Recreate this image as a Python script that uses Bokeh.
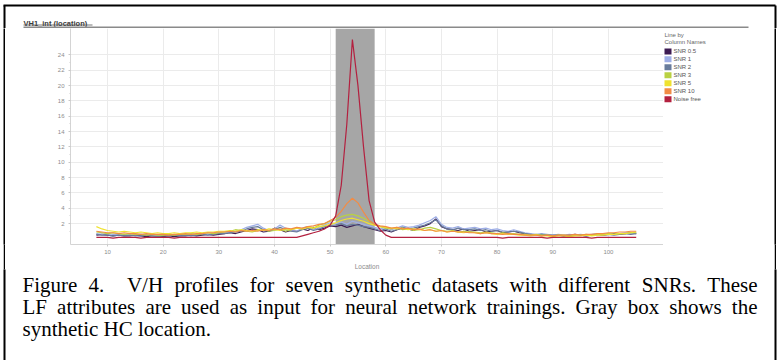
from bokeh.plotting import figure
from bokeh.layouts import column, row
from bokeh.models import Range1d, FixedTicker, BoxAnnotation
from bokeh.core.properties import value
from bokeh.embed import file_html
from bokeh.resources import INLINE

# ---------------- data ----------------
location = list(range(8, 106))

series_names = ["SNR 0.5", "SNR 1", "SNR 2", "SNR 3", "SNR 5", "SNR 10", "Noise free"]
series_colors = ["#3d1b52", "#9eaee6", "#687c9c", "#b9d143", "#efe22f", "#f28c45", "#b3203f"]

snr_05 = [0.5, 0.6, 0.5, 0.4, 0.5, 0.4, 0.4, 0.5, 0.4, 0.3, 0.4, 0.4, 0.3, 0.4, 0.3, 0.4, 0.4, 0.5, 0.4, 0.5, 0.6, 0.5, 0.6,
          0.7, 0.8, 0.7, 0.9, 1.1, 1.3, 1.2, 0.9, 1.0, 1.4, 1.2, 0.9, 1.1, 1.0, 1.3, 1.1, 1.5, 1.2, 1.4, 1.7,
          1.6, 1.8, 1.5, 1.7, 1.9, 1.6, 1.4, 1.2,
          1.0, 1.1, 0.9, 1.2, 1.4, 1.3, 1.1, 1.5, 1.7, 2.0, 2.6, 1.6, 1.3, 1.2, 1.1, 1.3, 1.0,
          1.1, 1.2, 0.9, 1.0, 1.1, 0.8, 0.9, 1.0, 0.8, 0.7, 0.6, 0.5, 0.6, 0.5, 0.4, 0.5, 0.4, 0.5, 0.6, 0.5,
          0.4, 0.5, 0.6, 0.5, 0.6, 0.7, 0.6, 0.7, 0.8, 0.7]
snr_1 = [0.7, 0.6, 0.7, 0.6, 0.5, 0.6, 0.5, 0.5, 0.6, 0.5, 0.4, 0.5, 0.5, 0.4, 0.5, 0.5, 0.6, 0.5, 0.6, 0.7, 0.6, 0.7, 0.8,
         0.8, 0.9, 1.0, 1.2, 1.5, 1.7, 1.9, 1.4, 1.1, 1.3, 1.8, 1.4, 1.1, 1.0, 1.4, 1.6, 1.2, 1.5, 1.8, 2.1,
         2.0, 2.2, 1.9, 2.3, 2.1, 1.9, 1.7, 1.5,
         1.3, 1.5, 1.2, 1.4, 1.7, 1.5, 1.6, 1.8, 2.1, 2.4, 2.9, 1.9, 1.5, 1.4, 1.6, 1.3, 1.4,
         1.5, 1.3, 1.4, 1.2, 1.3, 1.1, 1.0, 1.2, 1.0, 0.8, 0.7, 0.6, 0.7, 0.6, 0.5, 0.6, 0.5, 0.6, 0.5, 0.6,
         0.5, 0.6, 0.7, 0.6, 0.7, 0.6, 0.7, 0.8, 0.7, 0.8]
snr_2 = [0.6, 0.5, 0.5, 0.4, 0.5, 0.4, 0.5, 0.4, 0.4, 0.5, 0.4, 0.3, 0.4, 0.4, 0.5, 0.4, 0.5, 0.4, 0.5, 0.6, 0.5, 0.6, 0.7,
         0.7, 0.8, 0.9, 1.0, 1.3, 1.5, 1.6, 1.2, 1.0, 1.2, 1.5, 1.2, 1.0, 0.9, 1.2, 1.4, 1.1, 1.3, 1.6, 1.8,
         1.8, 2.0, 1.7, 1.9, 1.8, 1.6, 1.5, 1.3,
         1.1, 1.3, 1.0, 1.2, 1.5, 1.3, 1.4, 1.6, 1.8, 2.1, 2.5, 1.7, 1.3, 1.2, 1.4, 1.2, 1.2,
         1.3, 1.1, 1.2, 1.0, 1.1, 0.9, 0.9, 1.0, 0.9, 0.7, 0.6, 0.5, 0.6, 0.5, 0.5, 0.5, 0.4, 0.5, 0.5, 0.5,
         0.4, 0.5, 0.6, 0.5, 0.6, 0.5, 0.6, 0.7, 0.6, 0.7]
snr_3 = [0.9, 0.8, 0.7, 0.8, 0.7, 0.6, 0.7, 0.6, 0.6, 0.5, 0.6, 0.5, 0.5, 0.6, 0.5, 0.6, 0.6, 0.7, 0.6, 0.7, 0.8, 0.7, 0.8,
         0.9, 1.0, 1.2, 1.1, 1.0, 0.9, 1.1, 1.2, 1.0, 1.1, 1.3, 1.0, 1.2, 1.4, 1.3, 1.6, 1.4, 1.8, 2.0, 2.3,
         2.5, 2.9, 3.1, 3.2, 3.0, 2.7, 2.3, 1.9,
         1.6, 1.4, 1.3, 1.5, 1.2, 1.3, 1.1, 1.2, 1.4, 1.5, 1.3, 1.1, 1.0, 1.1, 0.9, 1.0, 0.9,
         0.9, 0.8, 0.9, 0.8, 0.7, 0.8, 0.7, 0.7, 0.6, 0.6, 0.5, 0.6, 0.5, 0.5, 0.4, 0.5, 0.5, 0.4, 0.5, 0.5,
         0.6, 0.5, 0.6, 0.6, 0.7, 0.6, 0.7, 0.7, 0.8, 0.8]
snr_5 = [1.6, 1.3, 1.1, 1.0, 0.9, 1.0, 0.9, 0.8, 0.9, 0.8, 0.7, 0.8, 0.7, 0.7, 0.8, 0.7, 0.8, 0.8, 0.9, 0.8, 0.9, 0.9, 1.0,
         1.0, 1.1, 1.0, 1.2, 1.1, 1.0, 1.2, 1.1, 1.3, 1.2, 1.1, 1.3, 1.2, 1.4, 1.3, 1.5, 1.4, 1.6, 1.7, 1.9,
         2.1, 2.4, 2.6, 2.7, 2.5, 2.3, 2.0, 1.8,
         1.6, 1.5, 1.4, 1.3, 1.4, 1.2, 1.3, 1.2, 1.1, 1.2, 1.0, 1.1, 0.9, 1.0, 0.9, 0.8, 0.9,
         0.8, 0.7, 0.8, 0.7, 0.6, 0.7, 0.6, 0.6, 0.5, 0.5, 0.4, 0.5, 0.4, 0.4, 0.3, 0.4, 0.4, 0.3, 0.4, 0.4,
         0.5, 0.4, 0.5, 0.5, 0.6, 0.6, 0.7, 0.7, 0.8, 0.9]
snr_10 = [1.0, 0.9, 0.8, 0.8, 0.7, 0.8, 0.7, 0.7, 0.6, 0.7, 0.6, 0.6, 0.6, 0.5, 0.6, 0.6, 0.7, 0.6, 0.7, 0.7, 0.8, 0.8, 0.9,
          0.9, 1.0, 0.9, 1.1, 1.0, 1.1, 1.0, 1.2, 1.1, 1.3, 1.2, 1.4, 1.3, 1.5, 1.4, 1.6, 1.7, 1.9, 2.0, 2.4,
          2.8, 3.6, 4.6, 5.3, 4.7, 3.5, 2.4, 1.9,
          1.7, 1.6, 1.4, 1.5, 1.3, 1.4, 1.2, 1.3, 1.1, 1.2, 1.0, 1.1, 0.9, 1.0, 0.9, 0.9, 0.8,
          0.8, 0.7, 0.8, 0.7, 0.7, 0.6, 0.7, 0.6, 0.6, 0.5, 0.5, 0.5, 0.4, 0.5, 0.4, 0.5, 0.5, 0.5, 0.6, 0.5,
          0.6, 0.6, 0.7, 0.7, 0.8, 0.8, 0.9, 0.9, 1.0, 1.0]
noise_free = [0.2, 0.2, 0.2, 0.1, 0.2, 0.2, 0.2, 0.2, 0.1, 0.2, 0.2, 0.2, 0.2, 0.2, 0.1, 0.2, 0.2, 0.2, 0.2, 0.2, 0.2, 0.2, 0.2,
              0.2, 0.2, 0.2, 0.2, 0.2, 0.2, 0.2, 0.2, 0.2, 0.2, 0.2, 0.2, 0.2, 0.2, 0.4, 0.6, 0.8, 1.0, 1.3, 1.8,
              3.0, 7.0, 15.0, 26.0, 20.0, 12.0, 5.0, 2.2,
              1.2, 0.5, 0.2, 0.2, 0.2, 0.2, 0.2, 0.2, 0.2, 0.2, 0.2, 0.2, 0.2, 0.2, 0.2, 0.2, 0.2,
              0.2, 0.2, 0.2, 0.2, 0.2, 0.1, 0.2, 0.2, 0.2, 0.2, 0.2, 0.2, 0.2, 0.1, 0.2, 0.2, 0.2, 0.2, 0.2, 0.2,
              0.2, 0.1, 0.2, 0.2, 0.2, 0.2, 0.2, 0.2, 0.2, 0.2]
all_series = [snr_05, snr_1, snr_2, snr_3, snr_5, snr_10, noise_free]

hc_box = (51, 58)
x_ticks = [10, 20, 30, 40, 50, 60, 70, 80, 90, 100]
y_ticks = [2, 4, 6, 8, 10, 12, 14, 16, 18, 20, 22, 24]

chart_title = "VH1_int (location)"
x_label = "Location"
legend_title = ["Line by", "Column Names"]
caption_lines = [
    "Figure 4.  V/H profiles for seven synthetic datasets with different SNRs. These",
    "LF attributes are used as input for neural network trainings. Gray box shows the",
    "synthetic HC location.",
]

# ---------------- geometry ----------------
W, H = 777, 360
HEAD_H = 28            # header strip (title)
MID_H = 244            # chart row
FRAME_H = 217          # plot-area height inside the chart row
OVERLAP = 3            # caption slides up over the row's bottom edge
CAP_H = H - HEAD_H - MID_H + OVERLAP
BORDER_W = 2
LPAD_W = 3             # white margin left of the outer frame
RPAD_W = 1             # white margin right of the outer frame
LEG_W = 111
CHART_W = W - LPAD_W - BORDER_W - LEG_W - BORDER_W - RPAD_W
BX_L, BX_R = 3, 775    # outer black frame x positions
x0, x1 = 3.35, 109.9
y0, y1 = -0.73, 27.45


def canvas(w, h):
    c = figure(width=w, height=h, x_range=Range1d(0, w), y_range=Range1d(h, 0),
               x_axis_type=None, y_axis_type=None, min_border=0,
               toolbar_location=None, output_backend="svg")
    c.outline_line_color = None
    c.grid.visible = False
    c.background_fill_color = "white"
    c.border_fill_color = "white"
    return c


def solid(w, h, color):
    c = canvas(w, h)
    c.background_fill_color = color
    c.border_fill_color = color
    return c


# ---------------- header ----------------
head = canvas(W, HEAD_H)
head.segment(x0=[BX_L, BX_L + 1, BX_R], y0=[5, 5, 5], x1=[BX_R, BX_L + 1, BX_R], y1=[5, HEAD_H, HEAD_H],
             line_color="black", line_width=2)
head.text(x=[23], y=[23], text=[chart_title], text_font=value("Liberation Sans"),
          text_font_size=value("7.5px"), text_font_style="bold", text_color="#3a3a3a",
          text_baseline="alphabetic")
head.segment(x0=[23], y0=[24.5], x1=[92], y1=[24.5], line_color="#555555", line_width=0.8)
head.segment(x0=[23], y0=[27], x1=[748], y1=[27], line_color="#8a8a8a", line_width=2)

# ---------------- side pieces of the outer frame ----------------
lpad = solid(LPAD_W, MID_H, "white")
lbar = solid(BORDER_W, MID_H, "black")
rbar = solid(BORDER_W, MID_H, "black")
rpad = solid(RPAD_W, MID_H, "white")

# ---------------- chart ----------------
p = figure(width=CHART_W, height=MID_H, x_range=Range1d(x0, x1), y_range=Range1d(y0, y1),
           toolbar_location=None, output_backend="svg",
           min_border_left=70 - LPAD_W - BORDER_W, min_border_right=0, min_border_top=0,
           min_border_bottom=MID_H - FRAME_H)
p.outline_line_color = None
p.background_fill_color = "white"
p.border_fill_color = "white"

for ax in (p.xaxis[0], p.yaxis[0]):
    ax.axis_line_color = "#d4d4d4"
    ax.major_tick_line_color = "#c8c8c8"
    ax.minor_tick_line_color = "#d0d0d0"
    ax.major_tick_out = 2
    ax.major_tick_in = 0
    ax.minor_tick_out = 1
    ax.minor_tick_in = 0
    ax.major_label_text_font_size = "6px"
    ax.major_label_text_color = "#8c8c8c"
    ax.major_label_text_font = "Liberation Sans"

p.xaxis.ticker = FixedTicker(ticks=x_ticks)
p.yaxis.ticker = FixedTicker(ticks=y_ticks, minor_ticks=[t - 1 for t in y_ticks])
p.xaxis.major_label_standoff = 3
p.yaxis.major_label_standoff = 4
p.xaxis.axis_label = x_label
p.xaxis.axis_label_text_font = "Liberation Sans"
p.xaxis.axis_label_text_font_size = "6.5px"
p.xaxis.axis_label_text_font_style = "normal"
p.xaxis.axis_label_text_color = "#8c8c8c"
p.xaxis.axis_label_standoff = 6

p.xgrid.grid_line_color = "#ebebeb"
p.ygrid.grid_line_color = "#ebebeb"

p.add_layout(BoxAnnotation(left=hc_box[0], right=hc_box[1], fill_color="#a6a6a6", fill_alpha=1.0,
                           line_color=None, level="underlay"))

for ys, col in zip(all_series, series_colors):
    p.line(location, ys, line_color=col, line_width=1.2)

# ---------------- legend panel (frame aligned with the chart's plot area) ----------------
leg = figure(width=LEG_W, height=MID_H, x_range=Range1d(0, LEG_W), y_range=Range1d(FRAME_H, 0),
             x_axis_type=None, y_axis_type=None, min_border_left=0, min_border_right=0,
             min_border_top=0, min_border_bottom=MID_H - FRAME_H,
             toolbar_location=None, output_backend="svg")
leg.outline_line_color = None
leg.grid.visible = False
leg.text(x=[1, 1], y=[7, 14], text=legend_title, text_font=value("Liberation Sans"),
         text_font_size=value("6px"), text_color="#666666", text_baseline="alphabetic")
row_y = [23 + 8 * i for i in range(len(series_names))]
leg.quad(left=[1] * len(series_names), right=[8] * len(series_names),
         top=[y - 3 for y in row_y], bottom=[y + 3 for y in row_y],
         fill_color=series_colors, line_color=None)
leg.text(x=[10] * len(series_names), y=row_y, text=series_names, text_font=value("Liberation Sans"),
         text_font_size=value("6px"), text_color="#555555", text_baseline="middle")

# ---------------- caption ----------------
cap = canvas(W, CAP_H)
cap.margin = (-OVERLAP, 0, 0, 0)
cap.segment(x0=[BX_L + 1, BX_R], y0=[-1, -1], x1=[BX_L + 1, BX_R], y1=[CAP_H, CAP_H],
            line_color="black", line_width=2)

TW = {' ': 250, ',': 250, '.': 250, '/': 278, '-': 333, '(': 333, ')': 333,
      'A': 722, 'B': 667, 'C': 667, 'D': 722, 'E': 611, 'F': 556, 'G': 722, 'H': 722, 'I': 333, 'J': 389,
      'K': 722, 'L': 611, 'M': 889, 'N': 722, 'O': 722, 'P': 556, 'Q': 722, 'R': 667, 'S': 556, 'T': 611,
      'U': 722, 'V': 722, 'W': 944, 'X': 722, 'Y': 722, 'Z': 611,
      'a': 444, 'b': 500, 'c': 444, 'd': 500, 'e': 444, 'f': 333, 'g': 500, 'h': 500, 'i': 278, 'j': 278,
      'k': 500, 'l': 278, 'm': 778, 'n': 500, 'o': 500, 'p': 500, 'q': 500, 'r': 333, 's': 389, 't': 278,
      'u': 500, 'v': 500, 'w': 722, 'x': 500, 'y': 500, 'z': 444}
FS = 21
CAP_L, CAP_R = 22, 757
top0 = HEAD_H + MID_H - OVERLAP
baselines = [284 - top0, 306 - top0, 328 - top0]


def tw(s):
    return sum(TW.get(c, 500) for c in s) * FS / 1000.0


wx, wy, wt = [], [], []
for i, (line, by) in enumerate(zip(caption_lines, baselines)):
    words = line.split(" ")
    if i < len(caption_lines) - 1:
        gap = (CAP_R - CAP_L - sum(tw(w) for w in words)) / (len(words) - 1)
    else:
        gap = tw(" ")
    cx = CAP_L
    for w in words:
        if w:
            wx.append(cx)
            wy.append(by)
            wt.append(w)
        cx += tw(w) + gap
cap.text(x=wx, y=wy, text=wt, text_font=value("Liberation Serif"), text_font_size=value(f"{FS}px"),
         text_color="black", text_baseline="alphabetic")

layout = column(head, row(lpad, lbar, p, leg, rbar, rpad), cap)
open("out.html", "w").write(file_html(layout, INLINE))
